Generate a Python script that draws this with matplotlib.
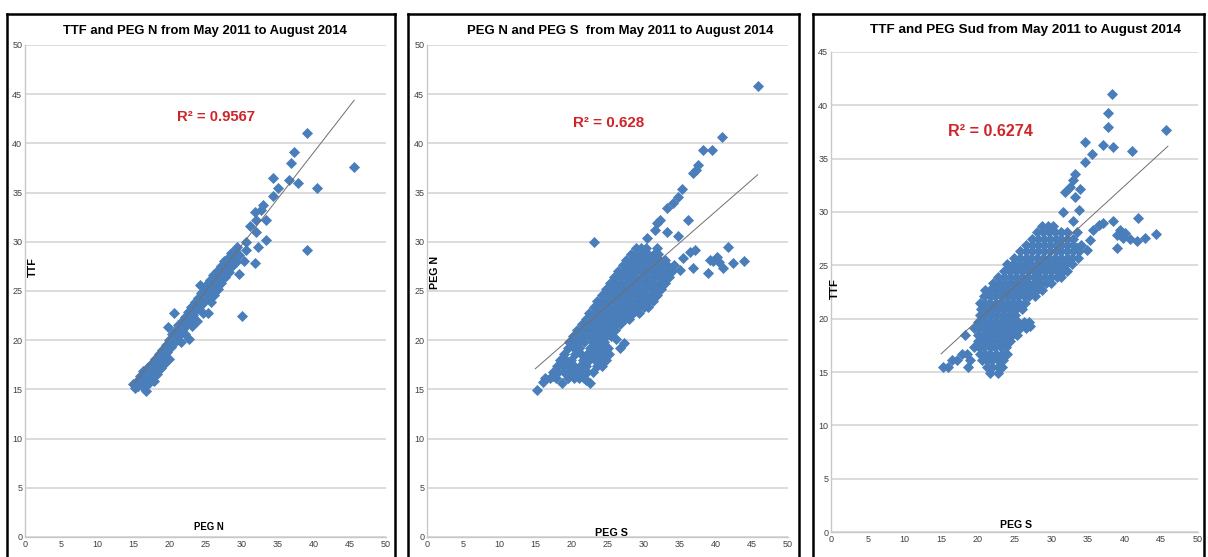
import matplotlib
matplotlib.use("Agg")
import matplotlib.pyplot as plt
from matplotlib.lines import Line2D

plt.rcParams['font.family'] = ['Liberation Sans Narrow', 'DejaVu Sans Condensed', 'Liberation Sans', 'DejaVu Sans']

# ---- data: (x, y) per point ----
# panel 1: PEG N (x) vs TTF (y)
ttf_pegn = [
    (15.0, 15.5), (15.2, 15.1), (15.5, 15.9), (15.7, 15.3), (15.9, 16.4), (16.1, 15.6), (16.3, 16.9),
    (16.4, 15.2), (16.6, 16.2), (16.8, 14.8), (16.9, 17.2), (17.1, 16.6), (17.2, 15.7), (17.4, 17.6),
    (17.5, 16.1), (17.7, 17.0), (17.9, 15.9), (18.0, 18.1), (18.1, 17.4), (18.3, 16.6), (18.5, 18.6),
    (18.6, 17.9), (18.8, 17.2), (19.0, 19.0), (19.1, 18.3), (19.3, 17.6), (19.5, 19.5), (19.6, 18.8),
    (19.8, 21.3), (19.9, 18.1), (20.0, 20.0), (20.2, 19.3), (20.4, 20.6), (20.6, 19.7), (20.7, 22.8),
    (20.9, 21.0), (21.0, 20.1), (21.2, 21.5), (21.4, 20.6), (21.6, 19.8), (21.7, 22.0), (21.9, 21.1),
    (22.1, 22.4), (22.2, 20.6), (22.4, 21.6), (22.6, 22.9), (22.7, 20.1), (22.8, 22.1), (23.0, 23.4),
    (23.1, 21.4), (23.3, 22.6), (23.5, 23.9), (23.6, 23.0), (23.8, 22.0), (24.0, 24.3), (24.1, 23.4),
    (24.2, 25.6), (24.4, 24.8), (24.5, 23.7), (24.7, 22.8), (24.9, 25.2), (25.0, 24.2), (25.2, 25.7),
    (25.3, 22.8), (25.4, 24.7), (25.6, 26.1), (25.7, 23.9), (25.9, 25.3), (26.1, 26.6), (26.2, 24.6),
    (26.4, 25.8), (26.6, 27.0), (26.7, 25.2), (26.9, 26.3), (27.1, 27.5), (27.2, 25.8), (27.4, 26.8),
    (27.6, 28.0), (27.7, 26.4), (27.9, 27.3), (28.1, 28.4), (28.2, 26.9), (28.4, 27.8), (28.6, 28.9),
    (28.7, 27.5), (28.9, 28.3), (29.1, 29.2), (29.2, 27.9), (29.4, 29.5), (29.7, 26.7), (29.7, 28.7),
    (30.0, 22.5), (30.6, 29.2), (30.4, 28.0), (30.6, 30.0), (31.2, 31.6), (31.9, 27.8), (32.0, 31.0),
    (32.0, 32.2), (32.3, 29.5), (31.9, 33.0), (32.7, 33.2), (32.9, 33.7), (33.4, 32.2), (33.4, 30.2),
    (34.4, 34.7), (35.1, 35.5), (34.4, 36.5), (36.6, 36.3), (36.9, 38.0), (37.3, 39.1), (37.8, 36.0),
    (39.1, 41.1), (39.1, 29.2), (40.4, 35.5), (45.5, 37.6),
]

# panel 2: PEG S (x) vs PEG N (y)
pegn_pegs = [
    (15.2, 14.9), (16.0, 15.8), (17.5, 16.4), (18.7, 15.7), (22.0, 16.0), (22.6, 15.6),
    (16.3, 16.2), (17.0, 16.2), (17.8, 16.2), (19.5, 16.2), (20.3, 16.2), (21.0, 16.2), (21.7, 16.2),
    (17.4, 16.8), (18.2, 16.8), (19.0, 16.8), (19.8, 16.8), (20.6, 16.8), (21.4, 16.8), (22.2, 16.8), (23.0, 16.8),
    (18.0, 17.4), (18.8, 17.4), (19.6, 17.4), (20.4, 17.4), (21.2, 17.4), (22.0, 17.4), (23.6, 17.4), (24.2, 17.4),
    (18.4, 18.0), (19.2, 18.0), (20.0, 18.0), (21.6, 18.0), (22.4, 18.0), (23.2, 18.0), (24.0, 18.0), (24.8, 18.0),
    (19.0, 18.6), (20.5, 18.6), (21.3, 18.6), (22.1, 18.6), (22.9, 18.6), (23.7, 18.6), (24.5, 18.6), (25.2, 18.6),
    (19.5, 19.2), (20.3, 19.2), (21.1, 19.2), (22.6, 19.2), (23.4, 19.2), (24.2, 19.2), (25.0, 19.2), (26.8, 19.2), (27.3, 19.7),
    (19.6, 19.8), (20.3, 19.8), (21.0, 19.8), (21.8, 19.8), (23.0, 19.8), (23.8, 19.8), (24.5, 19.8), (26.2, 20.1),
    (20.2, 20.4), (20.9, 20.4), (21.6, 20.4), (22.4, 20.4), (23.2, 20.4), (24.0, 20.4), (24.8, 20.4), (25.5, 20.4),
    (20.8, 21.0), (21.5, 21.0), (22.3, 21.0), (23.1, 21.0), (23.9, 21.0), (24.7, 21.0), (25.4, 21.0), (26.0, 21.0),
    (21.4, 21.6), (22.1, 21.6), (22.9, 21.6), (23.7, 21.6), (24.5, 21.6), (25.3, 21.6), (26.0, 21.6), (26.8, 21.6),
    (22.0, 22.2), (22.7, 22.2), (23.5, 22.2), (24.3, 22.2), (25.1, 22.2), (25.9, 22.2), (26.6, 22.2), (27.4, 22.2), (28.0, 22.2),
    (22.5, 22.8), (23.2, 22.8), (24.0, 22.8), (24.8, 22.8), (25.6, 22.8), (26.4, 22.8), (27.1, 22.8), (27.9, 22.8), (28.6, 22.8), (29.3, 22.8),
    (23.1, 23.4), (23.8, 23.4), (24.6, 23.4), (25.4, 23.4), (26.2, 23.4), (27.0, 23.4), (27.7, 23.4), (28.5, 23.4), (29.2, 23.4), (30.0, 23.4), (30.6, 23.4),
    (23.6, 24.0), (24.4, 24.0), (25.2, 24.0), (26.0, 24.0), (26.8, 24.0), (27.5, 24.0), (28.3, 24.0), (29.1, 24.0), (29.8, 24.0), (30.6, 24.0), (31.3, 24.0),
    (24.2, 24.6), (25.0, 24.6), (25.8, 24.6), (26.6, 24.6), (27.3, 24.6), (28.1, 24.6), (28.9, 24.6), (29.7, 24.6), (30.4, 24.6), (31.2, 24.6), (31.9, 24.6),
    (24.8, 25.2), (25.5, 25.2), (26.3, 25.2), (27.1, 25.2), (27.9, 25.2), (28.7, 25.2), (29.4, 25.2), (30.2, 25.2), (31.0, 25.2), (31.7, 25.2), (32.4, 25.2),
    (25.3, 25.8), (26.1, 25.8), (26.9, 25.8), (27.7, 25.8), (28.4, 25.8), (29.2, 25.8), (30.0, 25.8), (30.8, 25.8), (31.5, 25.8), (32.3, 25.8), (33.0, 25.8),
    (25.9, 26.4), (26.7, 26.4), (27.5, 26.4), (28.2, 26.4), (29.0, 26.4), (29.8, 26.4), (30.5, 26.4), (31.3, 26.4), (32.1, 26.4), (32.8, 26.4), (33.5, 26.4),
    (26.5, 27.0), (27.3, 27.0), (28.0, 27.0), (28.8, 27.0), (29.6, 27.0), (30.4, 27.0), (31.1, 27.0), (31.9, 27.0), (32.6, 27.0), (33.3, 27.0), (34.0, 27.0), (35.0, 27.1),
    (27.1, 27.6), (27.8, 27.6), (28.6, 27.6), (29.4, 27.6), (30.1, 27.6), (30.9, 27.6), (31.7, 27.6), (32.4, 27.6), (33.2, 27.6), (34.2, 27.6),
    (27.6, 28.2), (28.4, 28.2), (29.2, 28.2), (30.0, 28.2), (30.7, 28.2), (31.5, 28.2), (32.2, 28.2), (33.0, 28.2),
    (28.3, 28.8), (29.0, 28.8), (29.8, 28.8), (30.6, 28.8), (31.4, 28.8), (32.0, 28.8),
    (29.0, 29.4), (29.6, 29.4), (30.3, 29.4), (31.8, 29.4),
    (23.1, 30.0), (30.5, 30.4), (31.6, 31.2), (32.3, 32.2), (31.9, 31.9), (33.2, 33.4), (34.1, 33.9),
    (33.2, 31.0), (34.8, 30.6), (36.1, 32.2), (34.8, 34.6), (35.3, 35.4), (36.8, 37.0), (37.5, 37.8),
    (37.2, 37.3), (38.2, 39.3), (39.5, 39.3), (40.9, 40.7), (45.8, 45.8), (37.1, 29.2), (36.4, 29.0),
    (36.8, 27.3), (39.2, 28.2), (40.1, 28.5), (38.9, 26.8), (41.0, 27.3), (41.7, 29.5), (42.4, 27.8),
    (43.9, 28.0), (39.6, 28.0), (40.5, 27.9), (35.5, 28.4),
]

# panel 3: PEG S (x) vs TTF (y)
ttf_pegs = [
    (21.7, 14.9), (22.8, 14.9),
    (15.3, 15.5), (15.9, 15.5), (18.7, 15.5), (21.3, 15.5), (22.0, 15.5), (22.7, 15.5), (23.3, 15.5),
    (16.5, 16.1), (17.2, 16.1), (19.0, 16.1), (20.6, 16.1), (21.3, 16.1), (22.0, 16.1), (22.7, 16.1), (23.5, 16.1),
    (17.8, 16.7), (18.5, 16.7), (20.3, 16.7), (21.0, 16.7), (21.7, 16.7), (22.5, 16.7), (23.3, 16.7), (24.0, 16.7),
    (19.5, 17.3), (20.2, 17.3), (20.9, 17.3), (21.6, 17.3), (22.4, 17.3), (23.1, 17.3), (23.8, 17.3),
    (20.0, 17.9), (20.7, 17.9), (21.4, 17.9), (22.1, 17.9), (22.9, 17.9), (23.6, 17.9), (24.4, 17.9),
    (18.3, 18.5), (20.0, 18.5), (20.7, 18.5), (21.4, 18.5), (22.2, 18.5), (23.0, 18.5), (23.8, 18.5), (24.6, 18.5), (25.4, 18.5),
    (19.5, 19.1), (20.2, 19.1), (21.0, 19.1), (21.8, 19.1), (22.6, 19.1), (23.4, 19.1), (24.2, 19.1), (25.0, 19.1), (25.8, 19.1), (26.6, 19.1), (27.1, 19.3),
    (20.0, 19.7), (20.7, 19.7), (21.5, 19.7), (22.3, 19.7), (23.1, 19.7), (23.9, 19.7), (24.7, 19.7), (25.5, 19.7), (26.3, 19.7), (27.0, 19.7),
    (20.3, 20.3), (21.0, 20.3), (21.8, 20.3), (22.6, 20.3), (23.4, 20.3), (24.2, 20.3), (25.0, 20.3),
    (20.5, 20.9), (21.2, 20.9), (22.0, 20.9), (22.8, 20.9), (23.6, 20.9), (24.4, 20.9), (25.2, 20.9), (26.0, 20.9),
    (20.3, 21.5), (21.0, 21.5), (21.7, 21.5), (22.5, 21.5), (23.3, 21.5), (24.1, 21.5), (24.9, 21.5), (25.6, 21.5), (26.4, 21.5),
    (20.9, 22.1), (21.6, 22.1), (22.3, 22.1), (23.1, 22.1), (23.9, 22.1), (24.7, 22.1), (25.5, 22.1), (26.3, 22.1), (27.0, 22.1), (27.8, 22.1),
    (21.0, 22.7), (21.7, 22.7), (22.5, 22.7), (23.3, 22.7), (24.1, 22.7), (24.9, 22.7), (25.7, 22.7), (26.5, 22.7), (27.3, 22.7), (28.1, 22.7), (28.7, 22.7),
    (22.1, 23.3), (22.9, 23.3), (23.7, 23.3), (24.5, 23.3), (25.3, 23.3), (26.1, 23.3), (26.9, 23.3), (27.7, 23.3), (28.5, 23.3), (29.3, 23.3), (30.0, 23.3),
    (22.8, 23.9), (23.6, 23.9), (24.4, 23.9), (25.2, 23.9), (26.0, 23.9), (26.8, 23.9), (27.6, 23.9), (28.4, 23.9), (29.2, 23.9), (30.0, 23.9), (30.8, 23.9), (31.4, 23.9),
    (23.6, 24.5), (24.4, 24.5), (25.2, 24.5), (26.0, 24.5), (26.8, 24.5), (27.6, 24.5), (28.4, 24.5), (29.2, 24.5), (30.0, 24.5), (30.8, 24.5), (31.6, 24.5), (32.2, 24.5),
    (24.0, 25.1), (24.8, 25.1), (25.6, 25.1), (26.4, 25.1), (27.2, 25.1), (28.0, 25.1), (28.8, 25.1), (29.6, 25.1), (30.4, 25.1), (31.2, 25.1), (32.0, 25.1), (32.8, 25.1),
    (24.9, 25.7), (25.7, 25.7), (26.5, 25.7), (27.3, 25.7), (28.1, 25.7), (28.9, 25.7), (29.7, 25.7), (30.5, 25.7), (31.3, 25.7), (32.1, 25.7), (32.9, 25.7), (33.6, 25.7),
    (25.8, 26.3), (26.6, 26.3), (27.4, 26.3), (28.2, 26.3), (29.0, 26.3), (29.8, 26.3), (30.6, 26.3), (31.4, 26.3), (32.2, 26.3), (33.0, 26.3), (33.8, 26.3), (34.9, 26.4),
    (26.6, 26.9), (27.4, 26.9), (28.2, 26.9), (29.0, 26.9), (29.8, 26.9), (30.6, 26.9), (31.4, 26.9), (32.2, 26.9), (33.0, 26.9), (34.0, 26.9),
    (27.4, 27.5), (28.2, 27.5), (29.0, 27.5), (29.8, 27.5), (30.6, 27.5), (31.4, 27.5), (32.2, 27.5), (33.0, 27.5),
    (28.1, 28.1), (28.9, 28.1), (29.7, 28.1), (30.5, 28.1), (31.3, 28.1), (32.2, 28.1), (33.5, 28.1),
    (28.8, 28.7), (29.5, 28.7), (30.2, 28.7),
    (38.3, 41.1), (37.7, 39.3), (37.7, 38.0), (45.6, 37.7), (34.6, 36.6), (37.1, 36.3), (38.4, 36.1),
    (41.0, 35.7), (35.6, 35.4), (34.6, 34.7), (33.2, 33.6), (33.0, 33.0), (32.6, 32.3), (33.9, 32.2),
    (31.9, 31.9), (33.2, 31.4), (33.8, 30.2), (31.6, 30.0), (33.0, 29.2), (37.1, 29.0), (38.4, 29.2),
    (41.8, 29.4), (39.4, 28.3), (40.1, 28.0), (44.3, 27.9), (42.8, 27.6), (40.7, 27.5), (41.7, 27.3),
    (39.0, 26.6), (35.7, 28.3), (35.3, 27.4), (33.5, 26.6), (36.5, 28.8), (38.9, 27.8), (39.8, 27.6),
]

titles = ["TTF and PEG N from May 2011 to August 2014",
          "PEG N and PEG S  from May 2011 to August 2014",
          "TTF and PEG Sud from May 2011 to August 2014"]
x_labels = ["PEG N", "PEG S", "PEG S"]
y_labels = ["TTF", "PEG N", "TTF"]
r2_texts = ["R² = 0.9567", "R² = 0.628", "R² = 0.6274"]
# linear trend (slope, intercept, x start, x end)
trends = [(0.945, 1.3, 15.0, 45.6), (0.64, 7.5, 15.0, 45.8), (0.63, 7.25, 15.0, 45.9)]
y_max = [50, 50, 45]

W, H = 1208, 557
fig = plt.figure(figsize=(W / 100, H / 100), dpi=100)

# axes boxes in pixels: left, right, top(y max), bottom(y=0)
boxes = [(25, 386, 45, 537), (427, 788, 45, 537), (831, 1198, 52, 532)]
# panel frames in pixels: left, right, top
frames = [(7, 395, 14), (408, 799, 14), (813, 1204, 14)]
title_pos = [(205, 31), (620, 31), (1026, 30)]
title_w = [286, 310, 312]
r2_pos = [(26.5, 42.7), (25.1, 42.1), (21.7, 37.5)]
r2_w = [78, 71, 85]
xlab_pos = [(25.5, 1.0), (25.6, 0.4), (25.2, 0.7)]
xlab_w = [30, 33, 32]
ylab_pos = [(1.1, 27.4), (1.1, 26.9), (0.5, 22.8)]
ylab_h = [20, 33, 21]

datasets = [ttf_pegn, pegn_pegs, ttf_pegs]
fitted = []  # (text, target px, measure height?)

for i, pts in enumerate(datasets):
    l, r, t, b = boxes[i]
    ax = fig.add_axes([l / W, 1 - b / H, (r - l) / W, (b - t) / H])
    ax.set_xlim(0, 50)
    ax.set_ylim(0, y_max[i])
    ax.set_xticks(range(0, 51, 5))
    ax.set_yticks(range(0, y_max[i] + 1, 5))
    ax.grid(axis='y', color='#d9d9d9', lw=1.3)
    ax.set_axisbelow(True)
    for s in ['top', 'right']:
        ax.spines[s].set_visible(False)
    for s in ['left', 'bottom']:
        ax.spines[s].set_color('#c8c8c8')
        ax.spines[s].set_linewidth(1.0)
    ax.tick_params(length=0, pad=2, labelsize=6.5, labelcolor='#404040')

    xs = [p[0] for p in pts]
    ys = [p[1] for p in pts]
    ax.scatter(xs, ys, marker='D', s=32, color='#4a7ebb', linewidths=0, zorder=3)

    k, c, x0, x1 = trends[i]
    ax.plot([x0, x1], [k * x0 + c, k * x1 + c], color='#6e6e6e', lw=0.7, zorder=4)

    t1 = ax.text(*r2_pos[i], r2_texts[i], color='#d0242a', fontsize=13, fontweight='bold',
                 ha='center', va='center')
    t2 = ax.text(*xlab_pos[i], x_labels[i], fontsize=9, fontweight='bold', ha='center', va='center')
    t3 = ax.text(*ylab_pos[i], y_labels[i], fontsize=7, fontweight='bold', ha='center', va='center',
                 rotation=90)
    t4 = fig.text(title_pos[i][0] / W, 1 - title_pos[i][1] / H, titles[i], fontsize=11.5,
                  fontweight='bold', ha='center', va='center')
    fitted += [(t1, r2_w[i], False), (t2, xlab_w[i], False), (t3, ylab_h[i], True), (t4, title_w[i], False)]

    fl, fr, ft = frames[i]
    for xs_, ys_ in [([fl, fl], [ft, H + 5]), ([fr, fr], [ft, H + 5]), ([fl, fr], [ft, ft])]:
        fig.add_artist(Line2D([v / W for v in xs_], [1 - v / H for v in ys_],
                              color='black', lw=1.8, transform=fig.transFigure))

# scale fonts so each text spans the same width as in the source picture
fig.canvas.draw()
rend = fig.canvas.get_renderer()
for txt, target, vertical in fitted:
    bb = txt.get_window_extent(rend)
    size = bb.height if vertical else bb.width
    txt.set_fontsize(txt.get_fontsize() * target / size)

fig.savefig('out.png', dpi=100)
